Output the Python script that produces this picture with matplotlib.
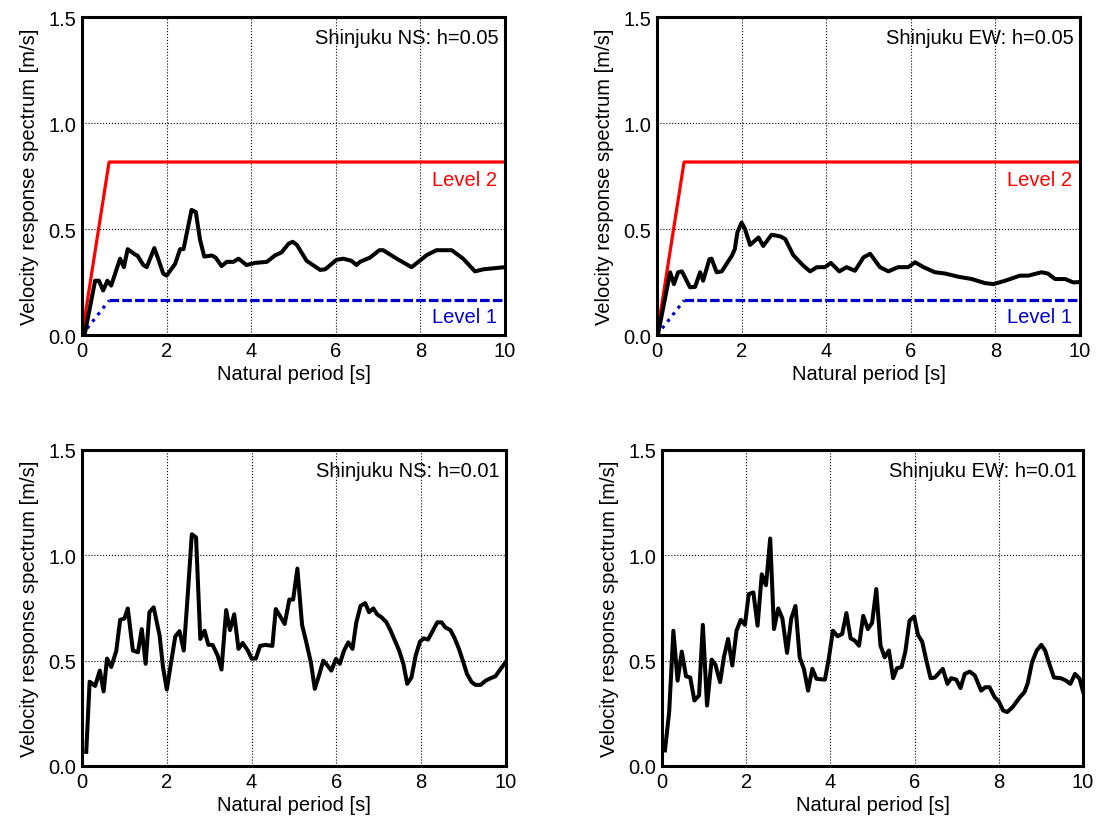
# Velocity response spectra, Shinjuku NS / EW, h=0.05 and h=0.01
import matplotlib
matplotlib.use('Agg')
import matplotlib.pyplot as plt

plt.rcParams['font.family'] = ['Liberation Sans Narrow', 'Liberation Sans', 'DejaVu Sans']

##########################################################
# Data

# Shinjuku NS, h=0.05
ns05_T = [0.07, 0.31, 0.40, 0.50, 0.60, 0.69, 0.90, 0.99, 1.08, 1.25, 1.31, 1.45, 1.53,
          1.71, 1.80, 1.92, 2.00, 2.20, 2.32, 2.40, 2.59, 2.69, 2.79, 2.89, 3.07, 3.16,
          3.30, 3.42, 3.58, 3.70, 3.89, 4.09, 4.37, 4.56, 4.72, 4.88, 4.98, 5.08, 5.31,
          5.63, 5.75, 6.02, 6.18, 6.37, 6.49, 6.57, 6.81, 7.03, 7.12, 7.44, 7.79, 7.92,
          8.15, 8.38, 8.74, 9.01, 9.29, 9.49, 10.0]
ns05_v = [0.01, 0.256, 0.256, 0.21, 0.256, 0.233, 0.36, 0.32, 0.405, 0.38, 0.375, 0.33, 0.32,
          0.41, 0.36, 0.29, 0.28, 0.335, 0.405, 0.405, 0.59, 0.58, 0.45, 0.37, 0.375, 0.365,
          0.325, 0.345, 0.345, 0.36, 0.33, 0.34, 0.345, 0.375, 0.39, 0.43, 0.44, 0.425, 0.35,
          0.307, 0.31, 0.355, 0.36, 0.35, 0.33, 0.345, 0.365, 0.40, 0.40, 0.36, 0.32, 0.34,
          0.377, 0.40, 0.40, 0.36, 0.30, 0.31, 0.32]

# Shinjuku EW, h=0.05
ew05_T = [0.03, 0.31, 0.40, 0.50, 0.59, 0.78, 0.90, 1.02, 1.09, 1.24, 1.29, 1.41, 1.53,
          1.77, 1.84, 1.90, 2.00, 2.08, 2.20, 2.40, 2.51, 2.71, 2.92, 3.03, 3.22, 3.46,
          3.62, 3.78, 3.97, 4.11, 4.31, 4.48, 4.68, 4.88, 5.04, 5.27, 5.47, 5.70, 5.94,
          6.10, 6.30, 6.57, 6.81, 7.12, 7.44, 7.75, 7.95, 8.23, 8.58, 8.78, 9.09, 9.24,
          9.41, 9.65, 9.84, 10.0]
ew05_v = [0.01, 0.296, 0.24, 0.296, 0.30, 0.225, 0.227, 0.296, 0.256, 0.358, 0.36, 0.296, 0.30,
          0.374, 0.405, 0.484, 0.53, 0.50, 0.425, 0.46, 0.42, 0.473, 0.465, 0.453, 0.377, 0.327,
          0.30, 0.32, 0.32, 0.34, 0.30, 0.32, 0.303, 0.366, 0.383, 0.32, 0.30, 0.32, 0.32,
          0.343, 0.32, 0.296, 0.29, 0.275, 0.264, 0.245, 0.24, 0.256, 0.28, 0.28, 0.296, 0.29,
          0.264, 0.264, 0.248, 0.25]

# Shinjuku NS, h=0.01
ns01_T = [0.10, 0.18, 0.31, 0.42, 0.51, 0.59, 0.69, 0.81, 0.90, 1.00, 1.08, 1.20, 1.32,
          1.41, 1.50, 1.59, 1.69, 1.83, 1.91, 2.00, 2.10, 2.20, 2.30, 2.40, 2.49, 2.59,
          2.69, 2.79, 2.89, 2.98, 3.08, 3.20, 3.29, 3.40, 3.49, 3.59, 3.69, 3.79, 3.91,
          4.00, 4.10, 4.20, 4.33, 4.49, 4.57, 4.69, 4.78, 4.89, 4.98, 5.08, 5.19, 5.29,
          5.40, 5.49, 5.59, 5.69, 5.79, 5.88, 5.99, 6.08, 6.18, 6.28, 6.38, 6.47, 6.57,
          6.68, 6.77, 6.87, 6.96, 7.07, 7.18, 7.28, 7.38, 7.48, 7.58, 7.67, 7.77, 7.87,
          7.97, 8.06, 8.16, 8.26, 8.38, 8.48, 8.57, 8.69, 8.79, 8.89, 8.99, 9.08, 9.19,
          9.28, 9.40, 9.52, 9.63, 9.75, 9.87, 10.0]
ns01_v = [0.067, 0.40, 0.38, 0.453, 0.354, 0.51, 0.47, 0.548, 0.694, 0.70, 0.748, 0.548, 0.54,
          0.65, 0.485, 0.73, 0.753, 0.62, 0.47, 0.363, 0.49, 0.615, 0.64, 0.548, 0.80, 1.10,
          1.085, 0.603, 0.642, 0.575, 0.575, 0.524, 0.458, 0.74, 0.645, 0.72, 0.556, 0.584, 0.548,
          0.51, 0.51, 0.57, 0.575, 0.57, 0.745, 0.705, 0.674, 0.79, 0.79, 0.937, 0.67, 0.587,
          0.49, 0.366, 0.43, 0.50, 0.477, 0.453, 0.508, 0.485, 0.548, 0.587, 0.556, 0.682, 0.76,
          0.773, 0.73, 0.748, 0.72, 0.705, 0.682, 0.642, 0.595, 0.548, 0.485, 0.39, 0.42, 0.524,
          0.59, 0.606, 0.60, 0.637, 0.682, 0.682, 0.658, 0.645, 0.606, 0.556, 0.495, 0.437, 0.398,
          0.385, 0.385, 0.405, 0.416, 0.426, 0.46, 0.495]

# Shinjuku EW, h=0.01
ew01_T = [0.07, 0.17, 0.27, 0.37, 0.47, 0.57, 0.67, 0.77, 0.88, 0.97, 1.07, 1.18, 1.27,
          1.38, 1.47, 1.57, 1.67, 1.77, 1.87, 1.97, 2.06, 2.17, 2.27, 2.37, 2.47, 2.57,
          2.66, 2.76, 2.86, 2.97, 3.07, 3.17, 3.27, 3.37, 3.47, 3.57, 3.67, 3.87, 3.96,
          4.06, 4.17, 4.28, 4.38, 4.48, 4.58, 4.68, 4.78, 4.89, 4.99, 5.09, 5.19, 5.29,
          5.39, 5.49, 5.58, 5.69, 5.78, 5.88, 5.99, 6.08, 6.18, 6.28, 6.38, 6.48, 6.67,
          6.78, 6.87, 6.99, 7.09, 7.19, 7.31, 7.43, 7.58, 7.68, 7.78, 7.90, 8.00, 8.10,
          8.20, 8.33, 8.49, 8.61, 8.69, 8.79, 8.90, 9.01, 9.10, 9.20, 9.31, 9.47, 9.60,
          9.70, 9.81, 9.92, 10.0]
ew01_v = [0.074, 0.256, 0.642, 0.405, 0.543, 0.426, 0.42, 0.311, 0.335, 0.67, 0.287, 0.505, 0.48,
          0.398, 0.516, 0.603, 0.477, 0.642, 0.694, 0.67, 0.816, 0.824, 0.666, 0.91, 0.858, 1.08,
          0.65, 0.748, 0.70, 0.537, 0.70, 0.76, 0.516, 0.461, 0.358, 0.461, 0.414, 0.41, 0.508,
          0.642, 0.616, 0.627, 0.726, 0.606, 0.595, 0.571, 0.713, 0.65, 0.679, 0.84, 0.571, 0.516,
          0.548, 0.417, 0.464, 0.47, 0.543, 0.69, 0.71, 0.622, 0.59, 0.50, 0.417, 0.42, 0.461,
          0.39, 0.417, 0.41, 0.37, 0.437, 0.448, 0.43, 0.358, 0.374, 0.374, 0.327, 0.306, 0.264,
          0.256, 0.28, 0.324, 0.351, 0.395, 0.493, 0.548, 0.575, 0.548, 0.485, 0.42, 0.417, 0.405,
          0.39, 0.437, 0.414, 0.354]

# Design levels (h=0.05 only)
level_T = [0.0, 0.64, 10.0]
level2_v = [0.0, 0.816, 0.816]
level1_v = [0.0, 0.163, 0.163]

titles = ['Shinjuku NS: h=0.05', 'Shinjuku EW: h=0.05',
          'Shinjuku NS: h=0.01', 'Shinjuku EW: h=0.01']

##########################################################
# Figure

fig = plt.figure(figsize=(10.97, 8.28), dpi=100)
W, H = 1097.0, 828.0
fs = 14.5

# axes boxes in pixels: left, right, top, bottom
boxes = [(82, 505, 18, 336), (657, 1080, 18, 336),
         (82, 506, 451, 767), (662, 1083, 451, 767)]
series = [(ns05_T, ns05_v), (ew05_T, ew05_v), (ns01_T, ns01_v), (ew01_T, ew01_v)]

for i, (box, (T, v), title) in enumerate(zip(boxes, series, titles)):
    l, r, t, b = box
    ax = fig.add_axes([l / W, 1 - b / H, (r - l) / W, (b - t) / H])

    if i < 2:
        ax.plot(level_T, level2_v, '-', color='red', linewidth=2.3)
        ax.plot(level_T[:2], level1_v[:2], ':', color='#0000cc', linewidth=2.3)
        ax.plot(level_T[1:], level1_v[1:], '--', color='#0000cc', linewidth=2.3,
                dashes=(3.0, 1.0))
        ax.text(9.82, 0.735, 'Level 2', color='red', ha='right', va='center', fontsize=fs)
        ax.text(9.82, 0.085, 'Level 1', color='#0000cc', ha='right', va='center', fontsize=fs)

    ax.plot(T, v, '-k', linewidth=2.9)

    ax.text(0.985, 0.965, title, transform=ax.transAxes, ha='right', va='top', fontsize=fs)

    ax.set_xlim(0, 10)
    ax.set_ylim(0, 1.5)
    ax.set_xticks([0, 2, 4, 6, 8, 10])
    ax.set_yticks([0.0, 0.5, 1.0, 1.5])
    ax.set_yticklabels(['0.0', '0.5', '1.0', '1.5'])
    ax.tick_params(length=0, labelsize=fs, pad=4)
    ax.grid(True, color='black', linestyle=':', linewidth=0.8)
    for s in ax.spines.values():
        s.set_linewidth(2.2)
    ax.set_xlabel('Natural period [s]', fontsize=fs, labelpad=3)
    ax.set_ylabel('Velocity response spectrum [m/s]', fontsize=fs, labelpad=7)

plt.savefig('out.png', dpi=100)
